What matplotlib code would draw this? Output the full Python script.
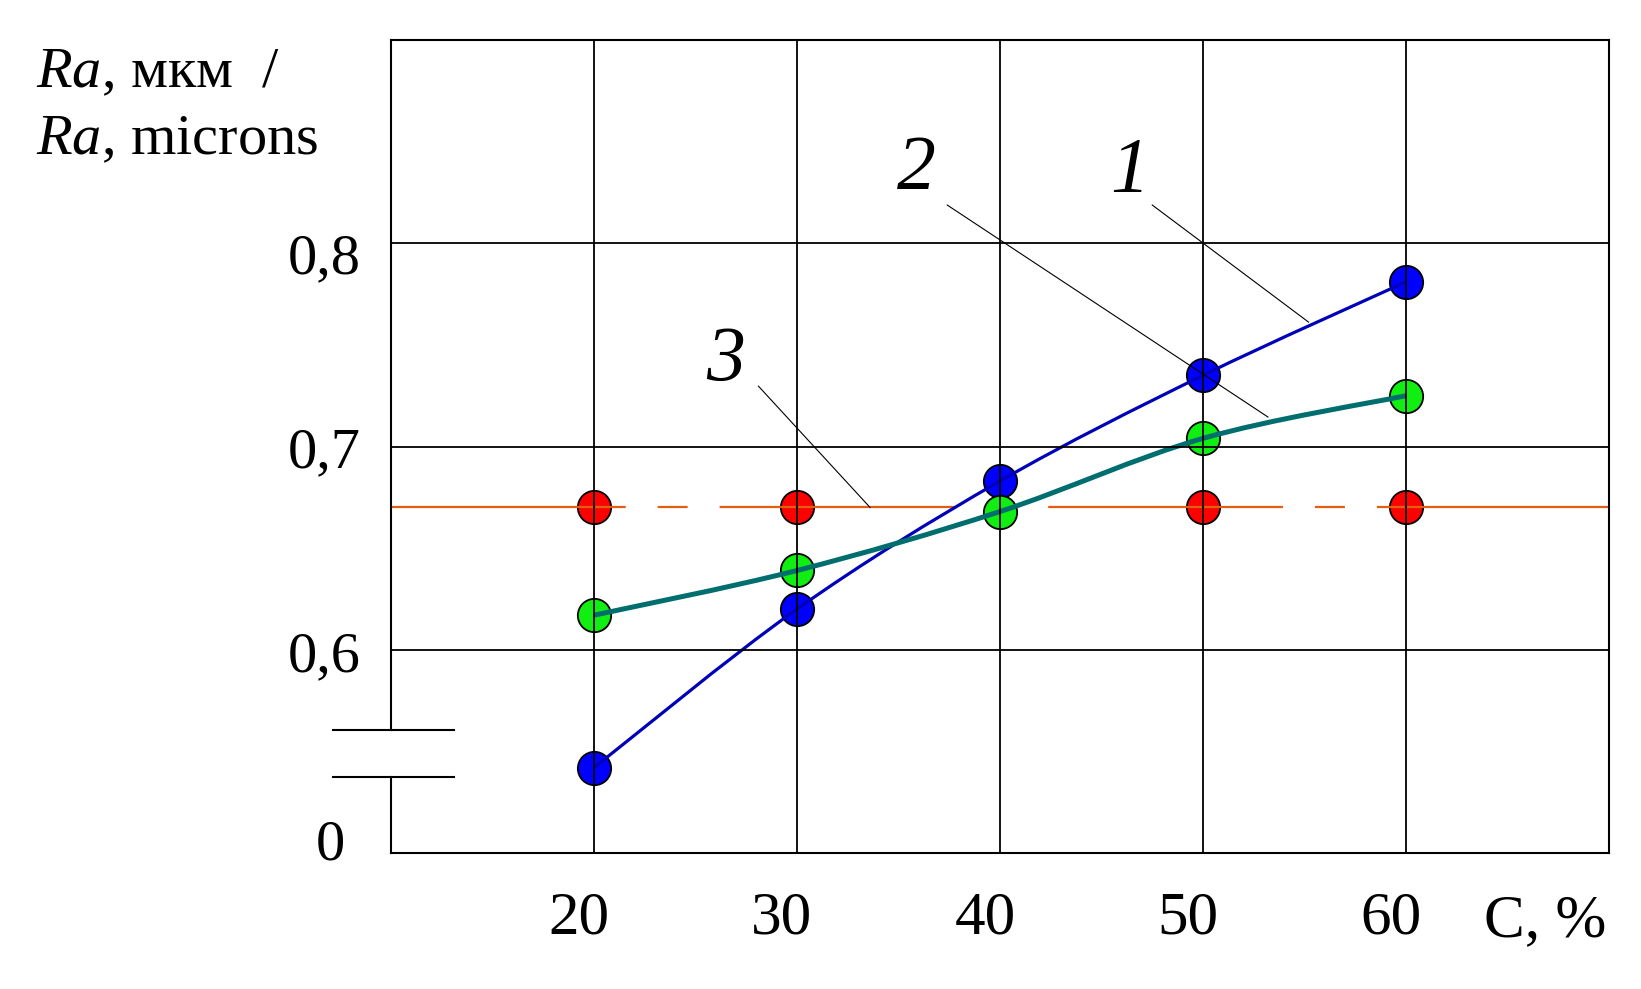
import numpy as np
import matplotlib
matplotlib.use("Agg")
import matplotlib.pyplot as plt
from matplotlib.path import Path
from matplotlib.patches import PathPatch
from matplotlib.transforms import ScaledTranslation

# donnees
conc = [20, 30, 40, 50, 60]                       # C, %
ra_1 = [0.542, 0.620, 0.683, 0.735, 0.781]        # courbe 1
ra_2 = [0.617, 0.639, 0.668, 0.704, 0.725]        # courbe 2
conc_3 = [20, 30, 50, 60]                         # point 40 cache sous la courbe 2
ra_3 = [0.670, 0.670, 0.670, 0.670]               # courbe 3
x_ticks = [20, 30, 40, 50, 60]
y_ticks = [0.6, 0.7, 0.8]
y_labels = ["0,6", "0,7", "0,8"]
y_decal = [-0.02, -0.01, -0.10]   # petit decalage vertical des etiquettes (pouces)

plt.rcParams['font.family'] = ['Liberation Serif', 'DejaVu Serif']
plt.rcParams['mathtext.fontset'] = 'custom'
plt.rcParams['mathtext.it'] = 'Liberation Serif:italic'
plt.rcParams['mathtext.rm'] = 'Liberation Serif'
plt.rcParams['lines.scale_dashes'] = False

W, H = 1641, 989
fig = plt.figure(figsize=(W / 100, H / 100), dpi=100)
ax = fig.add_axes([391 / W, 1 - 853 / H, 1218 / W, 813 / H])
ax.set_xlim(10, 70)
ax.set_ylim(0.5, 0.9)


def courbe(x, y):
    # courbe lisse (Catmull-Rom -> Bezier) passant par les points mesures
    p = np.column_stack([x, y]).astype(float)
    pp = np.vstack([p[0], p, p[-1]])
    verts = [p[0]]
    codes = [Path.MOVETO]
    for i in range(1, len(pp) - 2):
        c1 = pp[i] + (pp[i + 1] - pp[i - 1]) / 6
        c2 = pp[i + 1] - (pp[i + 2] - pp[i]) / 6
        verts += [c1, c2, pp[i + 1]]
        codes += [Path.CURVE4] * 3
    return Path(verts, codes)


# points et courbes
ax.plot(conc_3, ra_3, 'o', ms=24, mfc='#ff0000', mec='black', mew=1.3, zorder=1.4)
ax.axhline(np.mean(ra_3), color='#e0600f', lw=1.6, zorder=1.5,
           linestyle=(0, (169, 23, 21.6, 23)))
ax.plot(conc, ra_1, 'o', ms=24, mfc='#0000ff', mec='black', mew=1.3, zorder=1.6)
ax.plot(conc, ra_2, 'o', ms=24, mfc='#11ee11', mec='black', mew=1.3, zorder=1.6)
ax.add_patch(PathPatch(courbe(conc, ra_1), fc='none', ec='#0000b8', lw=2.3, zorder=1.7))
ax.add_patch(PathPatch(courbe(conc, ra_2), fc='none', ec='#006e6e', lw=3.6, zorder=1.8))

# lignes de rappel
ax.plot([47.5, 55.2], [0.8188, 0.7612], color='black', lw=0.8, zorder=3)
ax.plot([37.4, 53.2], [0.8188, 0.7145], color='black', lw=0.8, zorder=3)
ax.plot([28.1, 33.6], [0.7297, 0.670], color='black', lw=0.8, zorder=3)
ax.text(46.4, 0.835, "1", fontsize=56, style='italic', ha='center', va='center')
ax.text(35.9, 0.836, "2", fontsize=56, style='italic', ha='center', va='center')
ax.text(26.5, 0.742, "3", fontsize=56, style='italic', ha='center', va='center')

# grille
ax.set_xticks(x_ticks)
ax.set_xticklabels([str(v) for v in x_ticks])
ax.set_yticks(y_ticks)
ax.set_yticklabels(y_labels)
ax.set_axisbelow(False)
ax.grid(True, color='black', lw=1.3)
ax.tick_params(length=0, labelsize=44)
ax.tick_params(axis='x', pad=27)
ax.tick_params(axis='y', pad=22, labelsize=42)
for lab, d in zip(ax.get_yticklabels(), y_decal):
    lab.set_transform(lab.get_transform() + ScaledTranslation(0, d, fig.dpi_scale_trans))
for lab in ax.get_xticklabels():
    lab.set_transform(lab.get_transform() + ScaledTranslation(-0.15, 0, fig.dpi_scale_trans))

for s in ax.spines.values():
    s.set_linewidth(1.5)
ax.spines['left'].set_visible(False)

# axe y coupe
b_hi = (853 - 730) / 813
b_lo = (853 - 777) / 813
ax.plot([0, 0], [b_hi, 1], transform=ax.transAxes, color='black', lw=1.5, clip_on=False)
ax.plot([0, 0], [0, b_lo], transform=ax.transAxes, color='black', lw=1.5, clip_on=False)
ax.plot([-0.0476, 0.0517], [b_hi, b_hi], transform=ax.transAxes, color='black', lw=1.5, clip_on=False)
ax.plot([-0.0476, 0.0517], [b_lo, b_lo], transform=ax.transAxes, color='black', lw=1.5, clip_on=False)
fig.text(345 / W, 1 - 846 / H, "0", fontsize=42, ha='right', va='center')

# titres des axes
fig.text(36 / W, 1 - 87 / H, "$Ra$, мкм  /", fontsize=42, ha='left', va='baseline')
fig.text(36 / W, 1 - 154 / H, "$Ra$, microns", fontsize=42, ha='left', va='baseline')
fig.text(1606 / W, 1 - 936 / H, "C, %", fontsize=44, ha='right', va='baseline')

fig.savefig("out.png", dpi=100, facecolor='white')
